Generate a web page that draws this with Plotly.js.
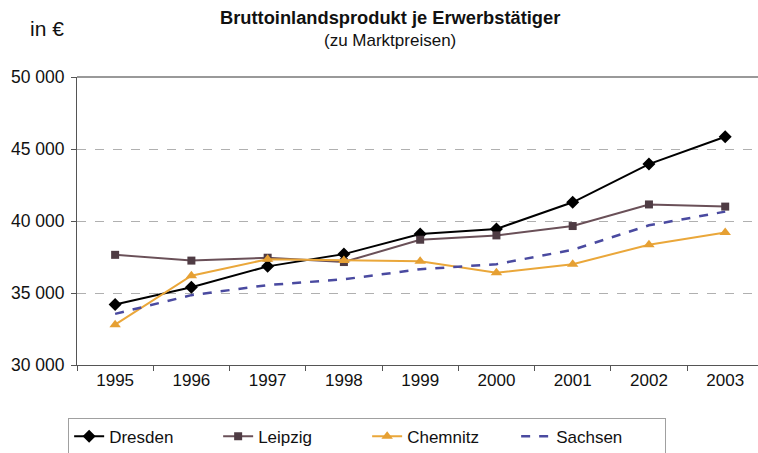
<!DOCTYPE html>
<html><head><meta charset="utf-8">
<script src="https://cdn.plot.ly/plotly-3.0.1.min.js"></script>
<style>body{margin:0;background:#fff}#c{width:758px;height:453px}</style>
</head><body><div id="c"></div>
<script>
const years = ['1995','1996','1997','1998','1999','2000','2001','2002','2003'];
const dresden = [34200, 35400, 36850, 37700, 39100, 39450, 41300, 43950, 45850];
const leipzig = [37650, 37250, 37450, 37150, 38700, 39000, 39650, 41150, 41000];
const chemnitz = [32800, 36200, 37350, 37250, 37200, 36400, 37000, 38350, 39200];
const sachsen = [33550, 34850, 35550, 35950, 36650, 37000, 38000, 39700, 40650];
const yTicks = [30000, 35000, 40000, 45000, 50000];

const font = 'Liberation Sans, Arial, sans-serif';
const traces = [
  {name:'Dresden', x:years, y:dresden, mode:'lines+markers',
   line:{color:'#000000', width:2}, marker:{symbol:'diamond', size:10, color:'#000000'}},
  {name:'Leipzig', x:years, y:leipzig, mode:'lines+markers',
   line:{color:'#6a5058', width:2}, marker:{symbol:'square', size:8, color:'#4f3c44'}},
  {name:'Chemnitz', x:years, y:chemnitz, mode:'lines+markers',
   line:{color:'#eaa73a', width:2}, marker:{symbol:'triangle-up', size:10, color:'#e6a033'}},
  {name:'Sachsen', x:years, y:sachsen, mode:'lines',
   line:{color:'#4a4aa0', width:2.5, dash:'dash'}}
];
const layout = {
  width:758, height:453,
  margin:{l:77, r:0, t:77, b:88, autoexpand:false},
  paper_bgcolor:'#ffffff', plot_bgcolor:'#ffffff',
  font:{family:font, size:17, color:'#111'},
  showlegend:true,
  legend:{orientation:'h', x:-0.013, y:-0.183, xanchor:'left', yanchor:'top',
    bordercolor:'#a0a0a0', borderwidth:1, font:{size:17, family:font, color:'#111'},
    tracegroupgap:0, itemwidth:30, entrywidth:104},
  xaxis:{type:'category', showline:true, linecolor:'#555', linewidth:1,
    ticks:'outside', tickson:'boundaries', ticklen:5, tickcolor:'#555',
    showgrid:false, tickfont:{size:17}, range:[-0.5,8.43]},
  yaxis:{range:[30000,50000], tickvals:yTicks, tickformat:',d', showline:true,
    linecolor:'#555', linewidth:1, ticks:'outside', ticklen:5, tickcolor:'#555',
    showgrid:true, gridcolor:'#b0b0b0', griddash:'dash', gridwidth:1,
    zeroline:false, tickfont:{size:17.5}, ticklabelstandoff:3},
  separators:', ',
  shapes:[{type:'line', xref:'paper', yref:'paper', x0:0, x1:1, y0:1, y1:1,
    line:{color:'#999', width:2}}],
  annotations:[
    {text:'<b>Bruttoinlandsprodukt je Erwerbstätiger</b>', xref:'paper', yref:'paper',
     x:0.46, y:1.205, xanchor:'center', yanchor:'middle', showarrow:false, font:{size:18.3}},
    {text:'(zu Marktpreisen)', xref:'paper', yref:'paper',
     x:0.46, y:1.128, xanchor:'center', yanchor:'middle', showarrow:false, font:{size:17}},
    {text:'in €', xref:'paper', yref:'paper', x:-0.044, y:1.17, xanchor:'center',
     yanchor:'middle', showarrow:false, font:{size:21}}
  ]
};
Plotly.newPlot('c', traces, layout, {displayModeBar:false, staticPlot:true});
</script></body></html>
